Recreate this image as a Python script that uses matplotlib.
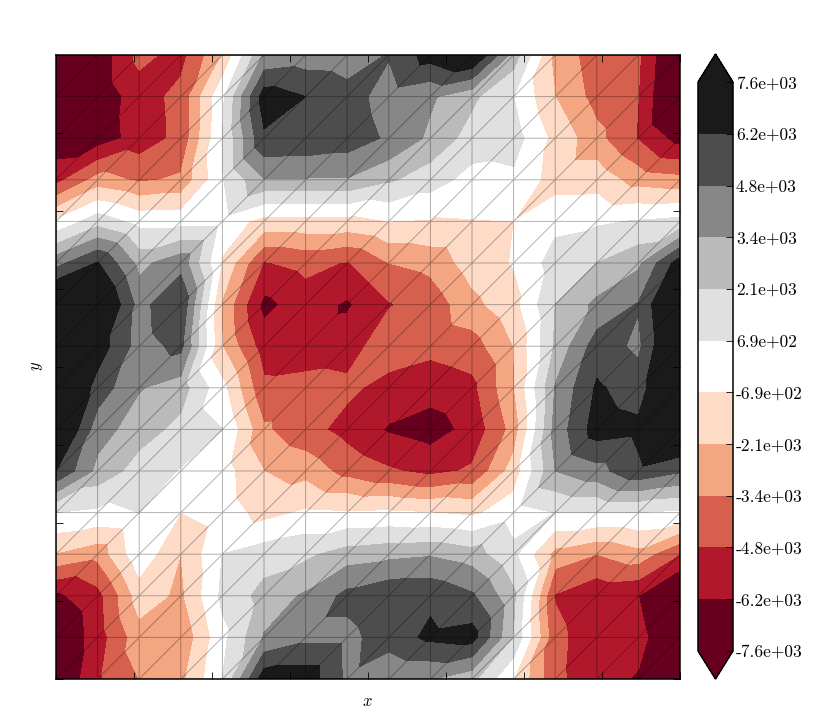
import numpy as np
import matplotlib
matplotlib.use("Agg")
import matplotlib.pyplot as plt
import matplotlib.tri as mtri
from matplotlib.colors import ListedColormap, BoundaryNorm

# node values in thousands, rows listed from top of the plot to bottom
row00 = [-6.8,-7.2,-4.4,-5.3,-2.0, 3.6, 4.0, 3.9, 4.9, 6.84,8.0, 2.85,-2.4,-4.2,-4.6,-8.5]
row01 = [-7.5,-7.2,-5.5,-4.35,0.4, 6.9, 6.2, 5.4, 4.2, 3.6, 2.4, 0.7,-2.1,-3.9,-4.8,-9.0]
row02 = [-7.2,-7.0,-5.6,-4.4, 0.7, 6.0, 5.9, 5.6, 4.57,3.13,1.5, 1.3,-1.13,-3.0,-4.9,-6.8]
row03 = [-5.3,-2.9,-3.6,-3.2, 0.6, 3.3, 3.3, 3.3, 2.3, 1.32,0.17,0.4,-1.3,-1.3,-2.7,-3.0]
row04 = [-0.5, 1.5, 0.2, 0.2, 0.2,-1.2,-1.2,-1.2,-0.7,-0.8,-0.75,-0.7,0.3, 0.5, 0.8, 1.1]
row05 = [ 4.3, 6.3, 3.0, 4.3,-0.9,-4.9,-4.4,-4.9,-3.4,-3.0,-1.5,-0.6, 1.3, 2.1, 3.1, 7.0]
row06 = [ 9.0, 8.5, 4.3, 6.1,-2.3,-6.6,-5.5,-6.4,-4.9,-4.2,-2.5,-1.2, 2.1, 3.7, 4.9, 9.0]
row07 = [ 9.0, 7.0, 4.2, 5.2,-2.1,-5.5,-5.6,-5.4,-4.0,-4.4,-4.0,-2.1, 2.3, 5.5, 4.5, 9.0]
row08 = [ 9.0, 5.6, 3.5, 2.7,-0.3,-4.5,-4.3,-4.5,-5.3,-5.66,-5.2,-2.2,3.5, 6.4, 5.5, 9.0]
row09 = [ 8.7, 4.0, 2.7, 1.7, 0.7,-3.2,-4.3,-5.3,-6.35,-6.83,-5.76,-2.9,3.9,6.9,6.57,8.5]
row10 = [ 6.2, 3.0, 1.5, 0.6,-0.1,-2.1,-2.6,-3.9,-4.63,-5.2,-4.6,-1.5, 3.4, 4.3, 5.9, 5.0]
row11 = [ 0.7, 0.4, 0.7,-0.7, 0.0,-1.2,-0.5,-0.6,-0.5,-0.7,-1.0, 0.1, 0.7, 0.7, 0.7, 0.4]
row12 = [-2.2,-3.0, 0.3,-2.1, 0.7, 1.4, 1.8, 2.7, 3.0, 3.25,2.7, 1.0,-2.6,-3.4,-2.6,-4.8]
row13 = [-6.5,-5.3,-1.5,-2.36,1.0, 2.6, 3.6, 5.2, 5.9, 5.9, 5.0, 2.4,-4.9,-5.9,-6.2,-8.5]
row14 = [-7.8,-5.5,-2.6,-3.2, 0.3, 3.5, 4.4, 4.4, 5.5, 6.5, 6.8, 2.0,-4.4,-5.7,-5.7,-7.9]
row15 = [-7.8,-5.05,-3.4,-2.5,0.7, 7.1, 7.1, 4.5, 3.5, 3.5, 2.5,-0.7,-4.5,-5.6,-6.35,-8.0]

levels_k = [-7.6,-6.2,-4.8,-3.4,-2.1,-0.69,0.69,2.1,3.4,4.8,6.2,7.6]
tick_labels = ['-7.6e+03','-6.2e+03','-4.8e+03','-3.4e+03','-2.1e+03','-6.9e+02',
               '6.9e+02','2.1e+03','3.4e+03','4.8e+03','6.2e+03','7.6e+03']
band_colors = ['#67001f','#b2182b','#d6604d','#f4a582','#fddbc7','#ffffff',
               '#e0e0e0','#bababa','#878787','#4d4d4d','#1a1a1a']
major_ticks = [-4,-3,-2,-1,0,1,2,3,4]

W, H = 830, 727
plt.rcParams['mathtext.fontset'] = 'cm'
fig = plt.figure(figsize=(W/100, H/100), dpi=100, facecolor='white')
ax = fig.add_axes([56/W, 1-679/H, 624/W, 624/H])

rows = [row15,row14,row13,row12,row11,row10,row09,row08,row07,row06,row05,row04,row03,row02,row01,row00]
z = np.array(rows)*1000.0
ny, nx = z.shape
gx, gy = np.meshgrid(np.linspace(-4, 4, nx), np.linspace(-4, 4, ny))
tris = []
for j in range(ny-1):
    for i in range(nx-1):
        a = j*nx+i; b = a+1; c = a+nx; d = c+1
        tris += [[a, b, d], [a, d, c]]
tri = mtri.Triangulation(gx.ravel(), gy.ravel(), np.array(tris))

levels = np.array(levels_k)*1000.0
cmap = ListedColormap(band_colors)
cmap.set_under(band_colors[0]); cmap.set_over(band_colors[-1])
norm = BoundaryNorm(levels, cmap.N)
cs = ax.tricontourf(tri, z.ravel(), levels=levels, cmap=cmap, norm=norm, extend='both')
ax.triplot(tri, color='k', lw=0.7, alpha=0.3)
ax.set_xlim(-4, 4); ax.set_ylim(-4, 4)
ax.set_xticks(major_ticks); ax.set_yticks(major_ticks)
ax.tick_params(direction='in', top=True, right=True, length=5, width=0.6,
               labelbottom=False, labelleft=False)
for s in ax.spines.values():
    s.set_linewidth(1.1)
fig.text(367.5/W, 1-701/H, r'$x$', ha='center', va='center', fontsize=12)
fig.text(36/W, 1-366/H, r'$y$', ha='center', va='center', rotation=90, fontsize=12)

cax = fig.add_axes([698/W, 1-679/H, 35/W, 625/H])
cb = fig.colorbar(cs, cax=cax, spacing='uniform', extendfrac=0.0494, drawedges=False)
cb.set_ticks(levels)
cb.set_ticklabels(tick_labels)
cb.minorticks_off()
cax.tick_params(direction='in', length=5, width=0.6, pad=2, labelsize=12.5)
for t in cax.get_yticklabels():
    t.set_family('cmr10')
cb.outline.set_linewidth(1.1)
fig.savefig('out.png', dpi=100, facecolor='white')
